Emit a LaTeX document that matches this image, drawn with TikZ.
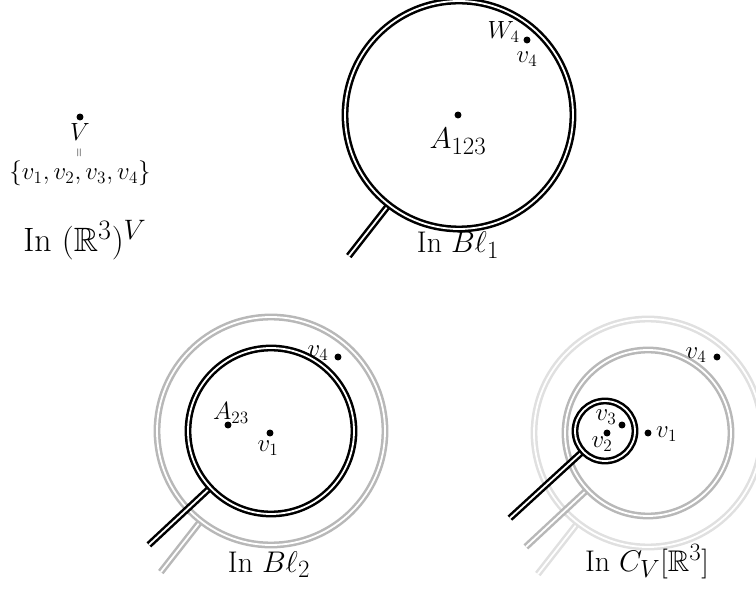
\documentclass[tikz,border=0pt]{standalone}
\usepackage{amssymb}
\usetikzlibrary{calc}
\begin{document}
\begin{tikzpicture}[x=0.8333pt,y=0.8333pt,
  ring/.style={line width=2.1pt, double distance=1.5pt, double=white, line cap=butt},
  dot/.style={circle, fill=black, inner sep=0pt, minimum size=5.8pt},
  lab/.style={inner sep=0pt, font=\huge},
  biglab/.style={inner sep=0pt, font=\Huge},
  midc/.style={draw=black!28},
  lightc/.style={draw=black!12}]
\useasboundingbox (0,0) rectangle (756,591);
% ---------- left: (R^3)^V ----------
\node[dot] (d0) at (80,474) {};
\node[lab, anchor=base] (V) at (80,450) {$V$};
\node[inner sep=0pt, rotate=90, font=\fontsize{10}{11}\selectfont] (eq) at (80,438) {$=$};
\node[lab, anchor=base] (set) at (80,411) {$\{v_1,v_2,v_3,v_4\}$};
\node[biglab, anchor=base, scale=1.13] (L0) at (85,339) {In $(\mathbb{R}^3)^V$};
% ---------- top: Bl_1 ----------
\coordinate (C1) at (459,476);
\coordinate (h1a) at ($(C1)+(232:114)$);
\coordinate (h1b) at ($(C1)+(232:179)$);
\draw[ring] (h1a) -- (h1b);
\draw[ring] (C1) circle (114);
\node[dot] (A) at (458,476) {};
\node[biglab, anchor=base] (Alab) at (458,442) {$A_{123}$};
\node[dot] (W) at (527,551) {};
\node[lab, anchor=base east] (Wlab) at (520,552) {$W_4$};
\node[lab, anchor=base] (v4a) at (527,528) {$v_4$};
\node[biglab, anchor=base] (L1) at (458,338) {In $B\ell_1$};
% ---------- bottom middle: Bl_2 ----------
\coordinate (C2) at (271,160);
\coordinate (g2a) at ($(C2)+(232:114)$);
\coordinate (g2b) at ($(C2)+(232:179)$);
\draw[ring, midc] (g2a) -- (g2b);
\draw[ring, midc] (C2) circle (114);
\coordinate (k2a) at ($(C2)+(223:83)$);
\coordinate (k2b) at ($(C2)+(223:167)$);
\draw[ring] (k2a) -- (k2b);
\draw[ring] (C2) circle (83);
\node[dot] (v1b) at (270,158) {};
\node[lab, anchor=base] (v1blab) at (268,139) {$v_1$};
\node[dot] (A23) at (228,166) {};
\node[lab, anchor=base] (A23lab) at (231,171) {$A_{23}$};
\node[dot] (v4b) at (338,234) {};
\node[lab, anchor=base] (v4blab) at (318,234) {$v_4$};
\node[biglab, anchor=base] (L2) at (269,19) {In $B\ell_2$};
% ---------- bottom right: C_V[R^3] ----------
\coordinate (C3) at (648,158);
\coordinate (l3a) at ($(C3)+(232:114)$);
\coordinate (l3b) at ($(C3)+(232:179)$);
\draw[ring, lightc] (l3a) -- (l3b);
\draw[ring, lightc] (C3) circle (114);
\coordinate (m3a) at ($(C3)+(223:83)$);
\coordinate (m3b) at ($(C3)+(223:167)$);
\draw[ring, midc] (m3a) -- (m3b);
\draw[ring, midc] (C3) circle (83);
\coordinate (S3) at (605,160);
\coordinate (s3a) at ($(S3)+(222.5:30)$);
\coordinate (s3b) at ($(S3)+(222.5:129)$);
\draw[ring] (s3a) -- (s3b);
\draw[ring] (S3) circle (30);
\node[dot] (v3c) at (622,166) {};
\node[lab, anchor=base] (v3clab) at (606,170) {$v_3$};
\node[dot] (v2c) at (607,158) {};
\node[lab, anchor=base] (v2clab) at (602,143) {$v_2$};
\node[dot] (v1c) at (648,158) {};
\node[lab, anchor=base west] (v1clab) at (656,153) {$v_1$};
\node[dot] (v4c) at (717,234) {};
\node[lab, anchor=base] (v4clab) at (696,232) {$v_4$};
\node[biglab, anchor=base] (L3) at (647,20) {In $C_V[\mathbb{R}^3]$};
\end{tikzpicture}
\end{document}
